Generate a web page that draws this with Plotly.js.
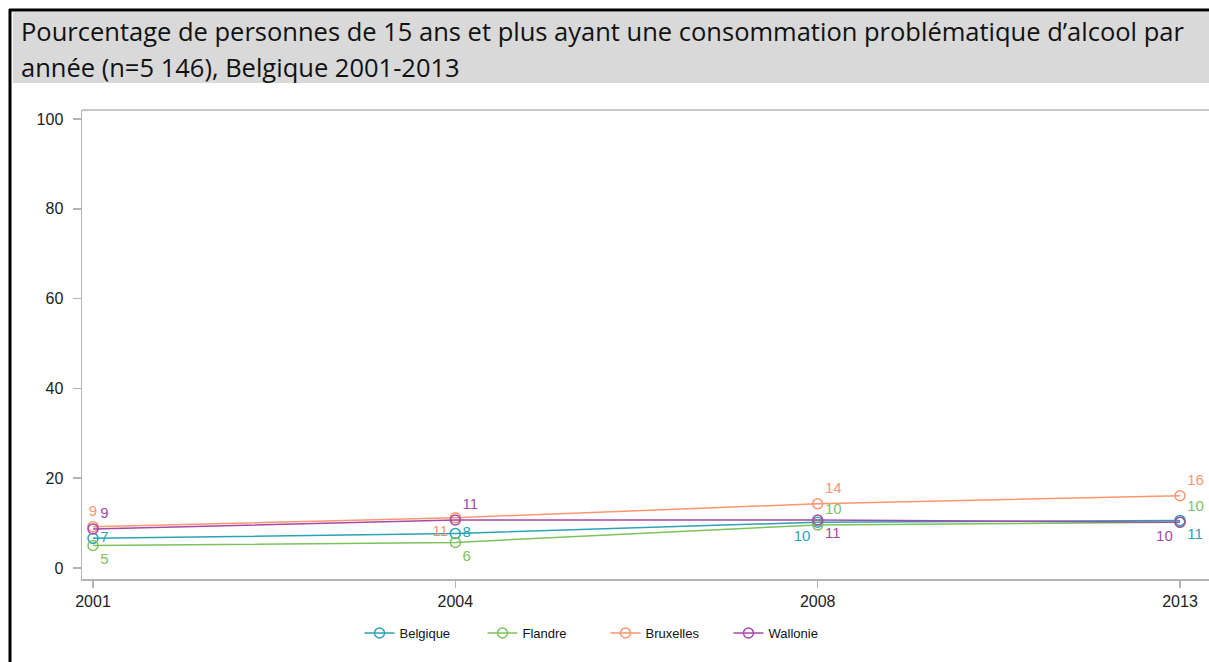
<!DOCTYPE html>
<html>
<head>
<meta charset="utf-8">
<script src="https://cdn.plot.ly/plotly-3.0.1.min.js"></script>
<style>
html,body{margin:0;padding:0;background:#fff;overflow:hidden;}
#chart{width:1209px;height:662px;}
</style>
</head>
<body>
<div id="chart"></div>
<script>
const years = ["2001", "2004", "2008", "2013"];
const seriesNames = ["Belgique", "Flandre", "Bruxelles", "Wallonie"];
const belgique = [6.6, 7.7, 10.2, 10.6];
const flandre = [5.0, 5.7, 9.6, 10.2];
const bruxelles = [9.2, 11.2, 14.3, 16.1];
const wallonie = [8.7, 10.7, 10.7, 10.2];
const colors = ["#2ba3b5", "#7cc35c", "#fa9670", "#a54aa8"];
const labelPositions = [
  ["middle right", "middle right", "bottom left", "bottom right"],
  ["bottom right", "bottom right", "top right", "top right"],
  ["top center", "bottom left", "top right", "top right"],
  ["top right", "top right", "bottom right", "bottom left"]
];
const titleLines = [
  "Pourcentage de personnes de 15 ans et plus ayant une consommation problématique d’alcool par",
  "année (n=5 146), Belgique 2001-2013"
];
const yTicks = [0, 20, 40, 60, 80, 100];

const allValues = [belgique, flandre, bruxelles, wallonie];
const traces = allValues.map((vals, i) => ({
  type: "scatter",
  mode: "lines+markers+text",
  name: seriesNames[i],
  x: years,
  y: vals,
  texttemplate: "%{y:.0f}",
  textposition: labelPositions[i],
  textfont: {family: "Liberation Sans, Arial, sans-serif", size: 15, color: colors[i]},
  line: {color: colors[i], width: 1.5},
  marker: {symbol: "circle-open", size: 10, color: colors[i], line: {width: 1.5, color: colors[i]}},
  cliponaxis: false,
  hoverinfo: "x+y+name"
}));

const W = 1209, H = 662, L = 82, R = 0, T = 110, B = 83;
const pw = W - L - R, ph = H - T - B;
const px = v => (v - L) / pw;
const py = v => (H - B - v) / ph;

const layout = {
  width: W, height: H,
  margin: {l: L, r: R, t: T, b: B, pad: 0},
  paper_bgcolor: "#ffffff",
  plot_bgcolor: "#ffffff",
  showlegend: true,
  font: {family: "Liberation Sans, Arial, sans-serif", size: 13, color: "#333"},
  xaxis: {
    type: "category",
    range: [-0.0304, 3.08],
    showgrid: false, zeroline: false,
    showline: true, linecolor: "#b4b4b4", linewidth: 1.5,
    ticks: "outside", ticklen: 7, tickcolor: "#b4b4b4", tickwidth: 1.5,
    tickfont: {size: 16, color: "#222"},
    fixedrange: true
  },
  yaxis: {
    range: [-2.45, 102],
    tickvals: yTicks,
    showgrid: false, zeroline: false,
    showline: true, linecolor: "#b4b4b4", linewidth: 1.5,
    ticks: "outside", ticklen: 8, tickcolor: "#b4b4b4", tickwidth: 1.5,
    ticklabelstandoff: 6,
    tickfont: {size: 16, color: "#222"},
    fixedrange: true
  },
  legend: {
    orientation: "h",
    x: 0.4645, xanchor: "center",
    y: py(633), yanchor: "middle",
    entrywidth: 78,
    font: {size: 13, color: "#111"},
    bgcolor: "rgba(0,0,0,0)"
  },
  annotations: [
    {xref: "paper", yref: "paper", x: px(19), y: py(31), xanchor: "left", yanchor: "middle", showarrow: false,
     text: titleLines[0], font: {family: "Open Sans, sans-serif", size: 25.5, color: "#111"}},
    {xref: "paper", yref: "paper", x: px(19), y: py(67), xanchor: "left", yanchor: "middle", showarrow: false,
     text: titleLines[1], font: {family: "Open Sans, sans-serif", size: 25.5, color: "#111"}}
  ],
  shapes: [
    {type: "rect", xref: "paper", yref: "paper", x0: px(13), x1: px(1215), y0: py(83), y1: py(12), fillcolor: "#d9d9d9", line: {width: 0}, layer: "below"},
    {type: "line", xref: "paper", yref: "paper", x0: px(10), x1: px(10), y0: py(9), y1: py(670), line: {color: "#000", width: 3}},
    {type: "line", xref: "paper", yref: "paper", x0: px(9), x1: px(1215), y0: py(10), y1: py(10), line: {color: "#000", width: 3}},
    {type: "line", xref: "paper", yref: "paper", x0: 0, x1: 1.01, y0: 1, y1: 1, line: {color: "#b4b4b4", width: 1.5}}
  ]
};

Plotly.newPlot("chart", traces, layout, {displayModeBar: false, staticPlot: true});
</script>
</body>
</html>
